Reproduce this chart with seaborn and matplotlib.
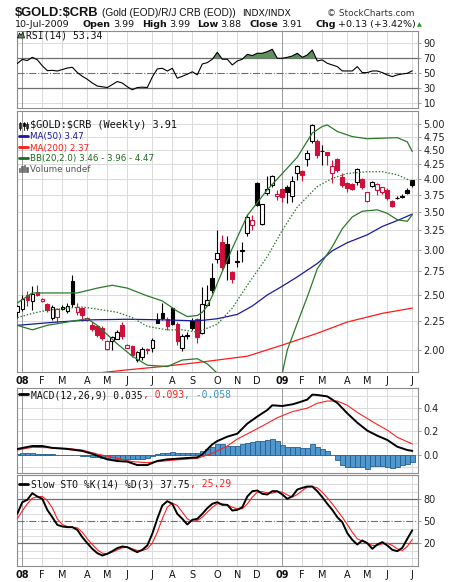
"""
$GOLD:$CRB weekly chart (StockCharts style) - candles + MA/BB, RSI, MACD, Slow STO
"""

import numpy as np
import pandas as pd
import matplotlib
matplotlib.use('Agg')
import matplotlib.pyplot as plt
import seaborn as sns
from matplotlib.lines import Line2D
from matplotlib.patches import Polygon, Rectangle
from matplotlib.ticker import FixedLocator, NullLocator, NullFormatter, FuncFormatter

# 1. DATA
week_start = pd.date_range('2007-12-31', periods=80, freq='W-MON')

open_ = [2.33, 2.36, 2.50, 2.44, 2.53, 2.44, 2.41, 2.28, 2.29, 2.365,
         2.34, 2.64, 2.33, 2.37, 2.26, 2.215, 2.20, 2.19, 2.005, 2.07,
         2.095, 2.21, 2.02, 2.03, 1.92, 1.94, 2.005, 2.02, 2.265, 2.325,
         2.265, 2.37, 2.22, 2.015, 2.12, 2.25, 2.265, 2.145, 2.40, 2.68,
         2.89, 3.10, 3.07, 2.74, 2.86, 2.985, 3.21, 3.32, 3.93, 3.335,
         3.775, 3.905, 3.74, 3.84, 3.87, 3.74, 4.10, 4.135, 4.33, 4.66,
         4.66, 4.48, 4.46, 4.105, 4.33, 4.04, 3.935, 3.92, 3.945, 4.00,
         3.66, 3.89, 3.83, 3.79, 3.83, 3.665, 3.70, 3.715, 3.82, 3.99]
high = [2.40, 2.50, 2.54, 2.59, 2.60, 2.47, 2.42, 2.40, 2.37, 2.40,
        2.42, 2.71, 2.42, 2.38, 2.29, 2.24, 2.21, 2.20, 2.08, 2.12,
        2.165, 2.24, 2.05, 2.04, 1.99, 2.025, 2.02, 2.10, 2.325, 2.42,
        2.29, 2.385, 2.24, 2.13, 2.155, 2.275, 2.275, 2.58, 2.60, 2.85,
        3.25, 3.19, 3.18, 2.76, 3.00, 3.10, 3.47, 3.46, 3.95, 3.62,
        4.05, 4.07, 3.83, 3.86, 3.905, 4.05, 4.24, 4.15, 4.50, 5.00,
        4.70, 4.60, 4.47, 4.32, 4.35, 4.10, 3.95, 3.94, 4.18, 4.02,
        3.80, 3.97, 3.93, 3.88, 3.85, 3.68, 3.73, 3.76, 3.85, 3.99]
low = [2.28, 2.34, 2.39, 2.35, 2.49, 2.43, 2.335, 2.26, 2.24, 2.35,
       2.32, 2.38, 2.305, 2.25, 2.25, 2.16, 2.11, 2.08, 2.00, 2.00,
       2.09, 2.09, 2.015, 1.945, 1.905, 1.92, 1.97, 1.98, 2.23, 2.26,
       2.17, 2.215, 2.04, 1.99, 2.095, 2.17, 2.055, 2.135, 2.39, 2.52,
       2.85, 2.77, 2.66, 2.62, 2.80, 2.86, 3.18, 3.25, 3.58, 3.32,
       3.75, 3.87, 3.675, 3.65, 3.63, 3.64, 3.99, 3.97, 4.22, 4.63,
       4.36, 4.24, 4.24, 3.935, 4.12, 3.88, 3.80, 3.82, 3.905, 3.84,
       3.65, 3.87, 3.75, 3.77, 3.68, 3.57, 3.69, 3.70, 3.76, 3.88]
close = [2.39, 2.46, 2.45, 2.51, 2.50, 2.46, 2.35, 2.38, 2.36, 2.385,
         2.395, 2.41, 2.38, 2.305, 2.28, 2.18, 2.125, 2.10, 2.075, 2.11,
         2.155, 2.115, 2.04, 1.96, 1.98, 2.005, 2.00, 2.085, 2.235, 2.275,
         2.20, 2.22, 2.07, 2.115, 2.125, 2.185, 2.11, 2.41, 2.445, 2.55,
         2.96, 2.80, 2.85, 2.67, 2.87, 3.00, 3.43, 3.39, 3.60, 3.61,
         3.835, 4.05, 3.765, 3.715, 3.80, 3.975, 4.22, 4.07, 4.44, 4.97,
         4.41, 4.49, 4.40, 4.22, 4.15, 3.905, 3.855, 3.845, 4.16, 3.87,
         3.79, 3.95, 3.92, 3.87, 3.70, 3.59, 3.71, 3.74, 3.78, 3.91]

ma50_week = [0, 8, 15, 22, 29, 36, 40, 44, 47, 50, 53, 56, 60, 63, 66, 70, 73, 76, 79]
ma50_val = [2.21, 2.24, 2.26, 2.265, 2.26, 2.25, 2.27, 2.31, 2.39, 2.50, 2.59,
            2.69, 2.84, 2.99, 3.09, 3.19, 3.30, 3.38, 3.47]

ma200_week = [17, 22, 29, 36, 42, 46, 53, 60, 66, 73, 79]
ma200_val = [1.825, 1.845, 1.87, 1.90, 1.93, 1.95, 2.04, 2.14, 2.24, 2.32, 2.37]

bb_up_week = [0, 3, 12, 16, 19, 22, 26, 29, 32, 34, 36, 37, 38, 39, 40, 41, 43,
              46, 50, 53, 56, 59, 61, 62, 64, 67, 70, 76, 78, 79]
bb_up_val = [2.42, 2.52, 2.52, 2.57, 2.60, 2.57, 2.49, 2.44, 2.34, 2.29, 2.30,
             2.33, 2.39, 2.49, 2.62, 2.75, 3.02, 3.45, 3.83, 4.09, 4.37, 4.82,
             4.95, 4.98, 4.85, 4.75, 4.71, 4.73, 4.65, 4.47]

bb_mid_week = [0, 3, 6, 10, 13, 16, 20, 23, 26, 30, 33, 36, 40, 43, 46, 50, 53,
               56, 60, 63, 66, 70, 73, 76, 79]
bb_mid_val = [2.28, 2.32, 2.35, 2.37, 2.38, 2.36, 2.33, 2.28, 2.20, 2.17, 2.17,
              2.15, 2.22, 2.37, 2.60, 2.92, 3.25, 3.57, 3.88, 4.01, 4.09, 4.12,
              4.12, 4.07, 3.96]

bb_low_week = [0, 3, 6, 10, 14, 16, 20, 23, 26, 30, 33, 36, 38, 40, 44, 47, 51,
               53, 54, 56, 58, 60, 63, 65, 67, 69, 72, 74, 76, 78, 79]
bb_low_val = [2.21, 2.17, 2.21, 2.24, 2.27, 2.21, 2.05, 1.95, 1.88, 1.87, 1.92,
              1.93, 1.89, 1.82, 1.55, 1.45, 1.55, 1.82, 2.00, 2.23, 2.48, 2.78,
              3.04, 3.27, 3.43, 3.51, 3.53, 3.48, 3.39, 3.37, 3.46]

rsi = [63, 68.5, 67, 71.3, 68, 60, 53.5, 54, 53, 55,
       57, 58, 51, 46, 42, 37, 33, 32, 31, 35,
       39, 37, 32, 28, 31, 31.5, 31, 45, 55.8, 56.7,
       53, 56.7, 43.5, 46, 48.7, 52, 48, 62.4, 64.2, 68.7,
       78, 68.7, 68.7, 61.1, 66.4, 68.7, 75.3, 73.6, 76.7, 76.7,
       78.9, 82, 70, 70, 71.3, 73.1, 76.7, 71.3, 74.4, 81.1,
       66.4, 67.8, 63.3, 61.1, 58.9, 53.1, 53.1, 53.1, 58.9, 50.9,
       50.9, 53.1, 53.1, 50.9, 47.8, 45.6, 47.8, 49.1, 50, 53.34]

macd_week = [0, 3, 5, 7, 10, 13, 15, 18, 20, 22, 24, 26, 28, 30, 33, 36, 37, 39,
             40, 42, 44, 46, 48, 50, 51, 53, 55, 56, 58, 59, 60, 62, 64, 66, 68,
             70, 72, 74, 76, 78, 79]
macd_val = [0.051, 0.076, 0.076, 0.060, 0.051, 0.034, 0.010, -0.037, -0.051,
            -0.056, -0.085, -0.085, -0.050, -0.037, -0.028, -0.020, 0.005,
            0.090, 0.118, 0.155, 0.180, 0.265, 0.325, 0.380, 0.420, 0.414,
            0.428, 0.440, 0.468, 0.510, 0.507, 0.495, 0.440, 0.352, 0.273,
            0.206, 0.163, 0.127, 0.070, 0.042, 0.035]
signal_week = [0, 3, 6, 10, 13, 16, 20, 23, 26, 30, 33, 36, 39, 42, 44, 47, 50,
               52, 55, 58, 60, 62, 64, 66, 68, 71, 74, 76, 79]
signal_val = [0.042, 0.065, 0.062, 0.056, 0.042, 0.008, -0.028, -0.056, -0.065,
              -0.048, -0.037, -0.028, 0.014, 0.076, 0.135, 0.200, 0.268, 0.315,
              0.366, 0.396, 0.437, 0.456, 0.456, 0.420, 0.360, 0.282, 0.210,
              0.150, 0.093]
hist = [0.012, 0.014, 0.015, 0.014, 0.012, 0.010,
        0.008, 0.006, 0.004, 0.003, 0.002, 0.000, -0.003,
        -0.006, -0.010, -0.015,
        -0.020, -0.025, -0.028, -0.030, -0.030,
        -0.032, -0.035, -0.036, -0.034, -0.030, -0.022,
        -0.008, 0.006,
        0.015, 0.020, 0.022, 0.020, 0.018, 0.016, 0.015, 0.014,
        0.030, 0.050, 0.068, 0.090, 0.092, 0.080, 0.078, 0.080, 0.092, 0.100,
        0.110, 0.115, 0.118, 0.125, 0.132, 0.120,
        0.085, 0.068, 0.064, 0.068, 0.055, 0.062, 0.090, 0.068, 0.048, 0.030,
        0.000, -0.040, -0.082, -0.105, -0.098, -0.100, -0.105, -0.115, -0.095,
        -0.090, -0.095, -0.100, -0.108, -0.098, -0.088, -0.075, -0.058]

sto_k = [60, 75.7, 78.9, 87.9, 83.4, 80.2, 65.3, 55.4, 45, 42.8,
         41.9, 41.9, 38.3, 28.3, 20.2, 12.6, 6.7, 3.5, 5.8, 9.4,
         13.5, 15.7, 14.8, 11.2, 8.1, 11.2, 17.1, 32.9, 53.2, 71.2,
         77.1, 73.5, 59.9, 53.2, 45.5, 51.8, 53.2, 59.9, 67.6, 73.5,
         75.7, 72.1, 72.1, 64.4, 65.3, 68.9, 83.4, 90.6, 91.5, 87,
         86.1, 90.6, 90.6, 86.1, 80.2, 83.8, 92.8, 95.1, 96.9, 96.9,
         90.6, 82.5, 73.5, 65.3, 55.4, 48.6, 33.8, 24.7, 18.4, 23.8,
         20.2, 12.6, 18.4, 21.6, 17.1, 11.2, 9.4, 13.9, 26.1, 37.75]
sto_d = [53.2, 64, 73.5, 81, 83, 83.4, 78, 68, 53.2, 45.5,
         42.8, 41.9, 41, 35.1, 26.1, 18.4, 11.2, 6.7, 5.8, 8.1,
         11.2, 13.9, 14.8, 12.6, 10.3, 10.3, 12.6, 20.2, 35.1, 53.2,
         68.9, 74.4, 71.2, 62.2, 53.2, 49.5, 50.9, 55.4, 62.2, 68.9,
         73.5, 73.5, 72.1, 68.9, 66.7, 66.7, 73.5, 82.5, 89.2, 90.1,
         88.3, 87.9, 90.1, 89.2, 85.6, 82.5, 86.1, 91.5, 96, 96.9,
         95.1, 89.2, 81.6, 73.5, 64.4, 55.4, 45.5, 35.1, 26.1, 22.9,
         20.2, 17.1, 17.1, 19.3, 20.2, 17.1, 12.6, 10.3, 15.7, 25.29]

price_ticks = [2.00, 2.25, 2.50, 2.75, 3.00, 3.25, 3.50, 3.75, 4.00, 4.25, 4.50, 4.75, 5.00]

# 2. FIGURE SETUP
sns.set_theme(style='white')
plt.rcParams['font.family'] = ['DejaVu Sans']

W, H = 460, 582
fig = plt.figure(figsize=(W / 100, H / 100), dpi=100)
fig.patch.set_facecolor('white')
renderer = fig.canvas.get_renderer()

GRID = '#dadada'
YEAR = '#9a9a9a'
DARK = '#6e6e6e'
RED = '#d0103a'
MONO = 'DejaVu Sans Mono'

idx = np.arange(len(close))
month_pos = [i for i in range(1, len(week_start)) if week_start[i].month != week_start[i - 1].month]
month_lab = [f"{week_start[i].year % 100:02d}" if week_start[i].month == 1
             else week_start[i].strftime('%b')[0] for i in month_pos]


def panel(top, bottom):
    return fig.add_axes([17 / W, 1 - bottom / H, 401 / W, (bottom - top) / H])


def style(ax, ylim, ticks, fmt, hgrid):
    ax.set_xlim(-0.06, 80.14)
    ax.set_ylim(*ylim)
    ax.set_facecolor('white')
    for s in ax.spines.values():
        s.set_color('#8c8c8c')
        s.set_linewidth(0.8)
    ax.yaxis.tick_right()
    ax.yaxis.set_major_locator(FixedLocator(ticks))
    ax.yaxis.set_major_formatter(FuncFormatter(lambda v, p: fmt.format(v)))
    ax.yaxis.set_minor_locator(NullLocator())
    ax.yaxis.set_minor_formatter(NullFormatter())
    ax.tick_params(axis='y', which='major', length=2.5, width=0.6, color='#8c8c8c',
                   pad=1.5, labelsize=7, labelcolor='#222222', right=True, left=False)
    ax.xaxis.set_major_locator(FixedLocator(month_pos))
    ax.tick_params(axis='x', length=0, labelbottom=False, bottom=False)
    for v in hgrid:
        ax.axhline(v, color=GRID, lw=0.7, zorder=0)
    for i, lab in zip(month_pos, month_lab):
        ax.axvline(i, color=YEAR if lab.isdigit() else GRID, lw=0.7, zorder=0)
    ax.set_xlabel('')
    ax.set_ylabel('')


def month_labels(ax):
    ax.set_xticklabels(month_lab)
    ax.tick_params(axis='x', labelbottom=True, pad=3, labelsize=7, labelcolor='#111111')
    for t in ax.get_xticklabels():
        if t.get_text().isdigit():
            t.set_fontweight('bold')


def put(x, y, s, **kw):
    t = fig.text(x / W, 1 - y / H, s, va='baseline', **kw)
    return t.get_window_extent(renderer=renderer).x1


def fig_dash(x0, x1, y, color, lw=2.0):
    fig.add_artist(Line2D([x0 / W, x1 / W], [1 - y / H, 1 - y / H], color=color,
                          lw=lw, transform=fig.transFigure))


def fig_rect(x, y, w, h, face, edge):
    fig.add_artist(Rectangle((x / W, 1 - (y + h) / H), w / W, h / H, facecolor=face,
                             edgecolor=edge, lw=0.5, transform=fig.transFigure))


ax_rsi = panel(31, 108)
ax_main = panel(111, 372)
ax_macd = panel(388, 473)
ax_sto = panel(475, 566)

# 3. RSI
style(ax_rsi, (3.7, 106.4), [10, 30, 50, 70, 90], '{:.0f}', [10, 90])
rsi_a = np.array(rsi)
ax_rsi.fill_between(idx, rsi_a, 70, where=rsi_a > 70, interpolate=True,
                    color='#5f8f5f', lw=0, zorder=2)
ax_rsi.axhline(70, color=DARK, lw=0.9, zorder=1)
ax_rsi.axhline(30, color=DARK, lw=0.9, zorder=1)
ax_rsi.axhline(50, color=DARK, lw=0.8, ls='-.', zorder=1)
sns.lineplot(x=idx, y=rsi_a, ax=ax_rsi, color='black', linewidth=0.8, legend=False, zorder=3)
ax_rsi.set_xlabel('')
ax_rsi.set_ylabel('')

# 4. MAIN PRICE PANEL (log scale)
ax_main.set_yscale('log')
style(ax_main, (1.829, 5.27), price_ticks, '{:.2f}', price_ticks)
month_labels(ax_main)

up_color = ['black'] + [RED if close[i] < close[i - 1] else 'black' for i in range(1, len(close))]
faces = ['white' if c >= o else col for o, c, col in zip(open_, close, up_color)]
bottoms = np.minimum(open_, close)
heights = np.abs(np.array(close) - np.array(open_))
ax_main.vlines(idx, low, high, colors=up_color, lw=0.8, zorder=3)
ax_main.bar(idx, heights, bottom=bottoms, width=0.72, color=faces, edgecolor=up_color,
            linewidth=0.8, zorder=4)

sns.lineplot(x=ma50_week, y=ma50_val, ax=ax_main, color='#1a1a9c', linewidth=0.9, legend=False, zorder=5)
sns.lineplot(x=ma200_week, y=ma200_val, ax=ax_main, color='#ff1a1a', linewidth=0.9, legend=False, zorder=5)
sns.lineplot(x=bb_up_week, y=bb_up_val, ax=ax_main, color='#2a7a2a', linewidth=0.9, legend=False, zorder=5)
sns.lineplot(x=bb_low_week, y=bb_low_val, ax=ax_main, color='#2a7a2a', linewidth=0.9, legend=False, zorder=5)
sns.lineplot(x=bb_mid_week, y=bb_mid_val, ax=ax_main, color='#2a7a2a', linewidth=0.9,
             linestyle=(0, (1.2, 1.4)), legend=False, zorder=5)
ax_main.set_ylim(1.829, 5.27)
ax_main.set_xlabel('')
ax_main.set_ylabel('')

# 5. MACD
style(ax_macd, (-0.152, 0.566), [0.0, 0.2, 0.4], '{:.1f}', [-0.1, 0.0, 0.1, 0.2, 0.3, 0.4, 0.5])
ax_macd.bar(idx, hist, width=1.0, color='#4f97cc', edgecolor='#245e8e', linewidth=0.6, zorder=2)
sns.lineplot(x=signal_week, y=signal_val, ax=ax_macd, color='#ff2020', linewidth=0.8, legend=False, zorder=3)
sns.lineplot(x=macd_week, y=macd_val, ax=ax_macd, color='black', linewidth=1.4, legend=False, zorder=4)
ax_macd.set_xlabel('')
ax_macd.set_ylabel('')

# 6. SLOW STOCHASTIC
style(ax_sto, (-10.7, 112.5), [20, 50, 80], '{:.0f}', [0, 10, 30, 40, 60, 70, 90, 100])
month_labels(ax_sto)
ax_sto.axhline(80, color=DARK, lw=0.9, zorder=1)
ax_sto.axhline(20, color=DARK, lw=0.9, zorder=1)
ax_sto.axhline(50, color=DARK, lw=0.8, ls='-.', zorder=1)
sns.lineplot(x=idx, y=sto_d, ax=ax_sto, color='#ff2020', linewidth=0.8, legend=False, zorder=3)
sns.lineplot(x=idx, y=sto_k, ax=ax_sto, color='black', linewidth=1.4, legend=False, zorder=4)
ax_sto.set_xlabel('')
ax_sto.set_ylabel('')

# 7. HEADER TEXT
put(15, 15.5, r'\$GOLD:\$CRB', fontsize=9.3, fontweight='bold', family='Liberation Sans', color='#111111')
put(102, 15.5, '(Gold (EOD)/R/J CRB (EOD))', fontsize=7.3, family='Liberation Sans', color='#111111')
put(242, 15.5, 'INDX/INDX', fontsize=6.7, color='#111111')
fig.text(415 / W, 1 - 15.5 / H, '© StockCharts.com', ha='right', va='baseline', fontsize=6.4,
         color='#333333')

last_day = (week_start[-1] + pd.Timedelta(days=4)).strftime('%d-%b-%Y')
hdr = dict(fontsize=6.8, color='#111111')
y2 = 26.8
put(15, y2, last_day, **hdr)
for lx, lab, val in [(82.7, 'Open', open_[-1]), (141.7, 'High', high[-1]),
                     (196.7, 'Low', low[-1]), (250, 'Close', close[-1])]:
    x = put(lx, y2, lab, fontweight='bold', **hdr)
    put(x + 2.5, y2, f'{val:.2f}', **hdr)
x = put(315, y2, 'Chg', fontweight='bold', **hdr)
x = put(x + 2.5, y2, '+0.13 (+3.42%)', **hdr)
put(x + 1.5, y2 - 0.5, '▲', fontsize=4.5, color='#10a010')

# 8. PANEL LEGENDS
# RSI
fig.add_artist(Polygon([(17.5 / W, 1 - 38 / H), (19.5 / W, 1 - 33 / H), (21 / W, 1 - 35.5 / H),
                        (23 / W, 1 - 32 / H), (24.5 / W, 1 - 38 / H)], closed=True,
                       facecolor='#5f8f5f', edgecolor='black', lw=0.5, transform=fig.transFigure))
put(26, 38, f'RSI(14) {rsi[-1]:.2f}', fontsize=7, family=MONO, color='#111111')

# main
for cx, top, bot, filled in [(20.5, 123, 127.5, False), (24, 122.5, 126, True), (27.5, 124, 128, False)]:
    fig.add_artist(Line2D([cx / W, cx / W], [1 - 121.5 / H, 1 - 129.5 / H], color='black', lw=0.6,
                          transform=fig.transFigure))
    fig_rect(cx - 1, top, 2, bot - top, 'black' if filled else 'white', 'black')
put(30.5, 128.5, rf'\$GOLD:\$CRB (Weekly) {close[-1]:.2f}', fontsize=7.4, family=MONO, color='#111111')

fig_dash(19, 28, 136, '#1a1a9c')
put(29.5, 139.5, f'MA(50) {ma50_val[-1]:.2f}', fontsize=6.3, color='#1a1a9c')
fig_dash(19, 28, 147, '#ff1a1a')
put(29.5, 150.5, f'MA(200) {ma200_val[-1]:.2f}', fontsize=6.3, color='#ff1a1a')
fig_dash(19, 28, 158, '#1f6a1f')
put(29.5, 161.5, f'BB(20,2.0) {bb_low_val[-1]:.2f} - {bb_mid_val[-1]:.2f} - {bb_up_val[-1]:.2f}',
    fontsize=6.3, color='#1f6a1f')
for bx, bh in [(19.5, 4), (22, 6.5), (24.5, 7.5), (27, 5)]:
    fig_rect(bx - 0.8, 172 - bh, 1.6, bh, '#666666', '#666666')
put(29.5, 172, 'Volume undef', fontsize=6.3, color='#555555')

# MACD
fig_dash(19, 28, 394, 'black')
x = put(31.5, 398, f'MACD(12,26,9) {macd_val[-1]:.3f}', fontsize=7, family=MONO, color='#111111')
x = put(x, 398, f', {signal_val[-1]:.3f}', fontsize=7, family=MONO, color='#ff2020')
put(x, 398, f', {hist[-1]:.3f}', fontsize=7, family=MONO, color='#3399cc')

# STO
fig_dash(19, 28, 483.5, 'black')
x = put(31.5, 487.5, f'Slow STO %K(14) %D(3) {sto_k[-1]:.2f}', fontsize=7, family=MONO, color='#111111')
put(x, 487.5, f', {sto_d[-1]:.2f}', fontsize=7, family=MONO, color='#ff2020')

fig.savefig('out.png', dpi=100, facecolor='white')
plt.close(fig)
